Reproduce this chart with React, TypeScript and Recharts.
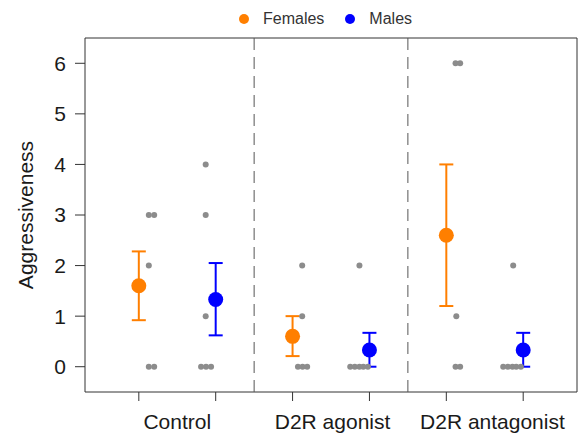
import {
  ComposedChart,
  ErrorBar,
  Legend,
  ReferenceArea,
  ReferenceLine,
  Scatter,
  XAxis,
  YAxis,
} from "recharts";

// skupiny a pozice na ose X
const GROUPS = ["Control", "D2R agonist", "D2R antagonist"];
const GROUP_LABEL_X = [1.5, 3.52, 5.6];
const FEMALE_X = [1, 3, 5];
const MALE_X = [2, 4, 6];

// průměry a meze chybových úseček
const FEMALE_MEAN = [1.6, 0.6, 2.6];
const FEMALE_LOW = [0.92, 0.21, 1.2];
const FEMALE_HIGH = [2.28, 1.0, 4.0];
const MALE_MEAN = [1.33, 0.33, 0.33];
const MALE_LOW = [0.62, 0, 0];
const MALE_HIGH = [2.05, 0.67, 0.67];

// jednotlivá pozorování (šedé body)
const RAW_X = [
  1.13, 1.2, 1.13, 1.13, 1.2,
  1.87, 1.87, 1.87, 1.81, 1.875, 1.94,
  3.125, 3.125, 3.07, 3.13, 3.19,
  3.87, 3.75, 3.81, 3.87, 3.92, 3.98,
  5.12, 5.18, 5.13, 5.12, 5.18,
  5.87, 5.74, 5.8, 5.86, 5.91, 5.97,
];
const RAW_Y = [
  3, 3, 2, 0, 0,
  4, 3, 1, 0, 0, 0,
  2, 1, 0, 0, 0,
  2, 0, 0, 0, 0, 0,
  6, 6, 1, 0, 0,
  2, 0, 0, 0, 0, 0,
];

const Y_TICKS = [0, 1, 2, 3, 4, 5, 6];
const X_TICKS = [1, 2, 3, 4, 5, 6];
const DIVIDERS = [2.5, 4.5];

const FONT = "'Liberation Sans', Arial, sans-serif";
const ORANGE = "#FF7F00";
const BLUE = "#0000FF";
const GRAY = "#8c8c8c";
const AXIS = "#333333";

const rawData = RAW_X.map((x, i) => ({ x, y: RAW_Y[i] }));
const femaleData = FEMALE_X.map((x, i) => ({
  x,
  y: FEMALE_MEAN[i],
  err: [FEMALE_MEAN[i] - FEMALE_LOW[i], FEMALE_HIGH[i] - FEMALE_MEAN[i]],
}));
const maleData = MALE_X.map((x, i) => ({
  x,
  y: MALE_MEAN[i],
  err: [MALE_MEAN[i] - MALE_LOW[i], MALE_HIGH[i] - MALE_MEAN[i]],
}));

type LegendItem = { value?: string; color?: string };

function LegendContent({ payload }: { payload?: LegendItem[] }) {
  const items = (payload ?? []).filter((p) => p.value === "Females" || p.value === "Males");
  return (
    <div style={{ display: "flex", alignItems: "center", fontFamily: FONT, fontSize: 16, color: "#333" }}>
      {items.map((p) => (
        <span key={p.value} style={{ display: "flex", alignItems: "center", marginRight: 21 }}>
          <svg width={10} height={10}>
            <circle cx={5} cy={5} r={5} fill={p.color} />
          </svg>
          <span style={{ marginLeft: 14 }}>{p.value}</span>
        </span>
      ))}
    </div>
  );
}

// osa X: čárky u celých hodnot, popisky skupin mezi nimi
function XTick({ x, y, payload }: { x?: number; y?: number; payload?: { value: number } }) {
  const v = payload?.value ?? 0;
  const idx = GROUP_LABEL_X.indexOf(v);
  const yy = y ?? 0;
  if (idx >= 0) {
    return (
      <text x={x} y={yy + 37} textAnchor="middle" fontSize={21} fontFamily={FONT} fill="#1a1a1a">
        {GROUPS[idx]}
      </text>
    );
  }
  return <line x1={x} x2={x} y1={yy} y2={yy + 9} stroke={AXIS} strokeWidth={1} />;
}

export default function App() {
  return (
    <div style={{ position: "absolute", left: 0, top: 0, background: "#fff" }}>
      <ComposedChart width={579} height={434} margin={{ top: 38, right: 2, left: 0, bottom: 0 }}>
        <XAxis
          type="number"
          dataKey="x"
          domain={[0.3, 6.7]}
          ticks={[...X_TICKS, ...GROUP_LABEL_X].sort((a, b) => a - b)}
          interval={0}
          allowDataOverflow
          axisLine={false}
          tickLine={false}
          tickSize={0}
          tickMargin={0}
          tick={<XTick />}
          height={42}
        />
        <YAxis
          type="number"
          dataKey="y"
          domain={[-0.5, 6.5]}
          ticks={Y_TICKS}
          allowDataOverflow
          axisLine={false}
          tickSize={10}
          tickMargin={9}
          tickLine={{ stroke: AXIS }}
          tick={{ fontSize: 21, fontFamily: FONT, fill: "#1a1a1a" }}
          width={85}
          label={({ viewBox }: { viewBox?: { y: number; height: number } }) => {
            const cy = (viewBox?.y ?? 38) + (viewBox?.height ?? 354) / 2;
            return (
              <text
                x={25}
                y={cy}
                transform={`rotate(-90, 25, ${cy})`}
                textAnchor="middle"
                dominantBaseline="central"
                fontSize={21}
                fontFamily={FONT}
                fill="#1a1a1a"
              >
                Aggressiveness
              </text>
            );
          }}
        />
        <Legend
          layout="horizontal"
          verticalAlign="middle"
          align="center"
          content={<LegendContent />}
          wrapperStyle={{ top: 10, left: 239, width: "auto" }}
        />
        <ReferenceArea x1={0.3} x2={6.7} y1={-0.5} y2={6.5} stroke={AXIS} strokeWidth={1} fill="none" fillOpacity={0} />
        {DIVIDERS.map((d) => (
          <ReferenceLine key={d} x={d} stroke="#555" strokeDasharray="12 7" />
        ))}
        <Scatter
          name="raw"
          data={rawData}
          legendType="none"
          isAnimationActive={false}
          shape={(p: { cx?: number; cy?: number }) => <circle cx={p.cx} cy={p.cy} r={3} fill={GRAY} />}
        />
        <Scatter
          name="Females"
          data={femaleData}
          fill={ORANGE}
          isAnimationActive={false}
          shape={(p: { cx?: number; cy?: number }) => <circle cx={p.cx} cy={p.cy} r={7.5} fill={ORANGE} />}
        >
          <ErrorBar dataKey="err" direction="y" width={7} stroke={ORANGE} strokeWidth={2} isAnimationActive={false} />
        </Scatter>
        <Scatter
          name="Males"
          data={maleData}
          fill={BLUE}
          isAnimationActive={false}
          shape={(p: { cx?: number; cy?: number }) => <circle cx={p.cx} cy={p.cy} r={7.5} fill={BLUE} />}
        >
          <ErrorBar dataKey="err" direction="y" width={7} stroke={BLUE} strokeWidth={2} isAnimationActive={false} />
        </Scatter>
      </ComposedChart>
    </div>
  );
}
